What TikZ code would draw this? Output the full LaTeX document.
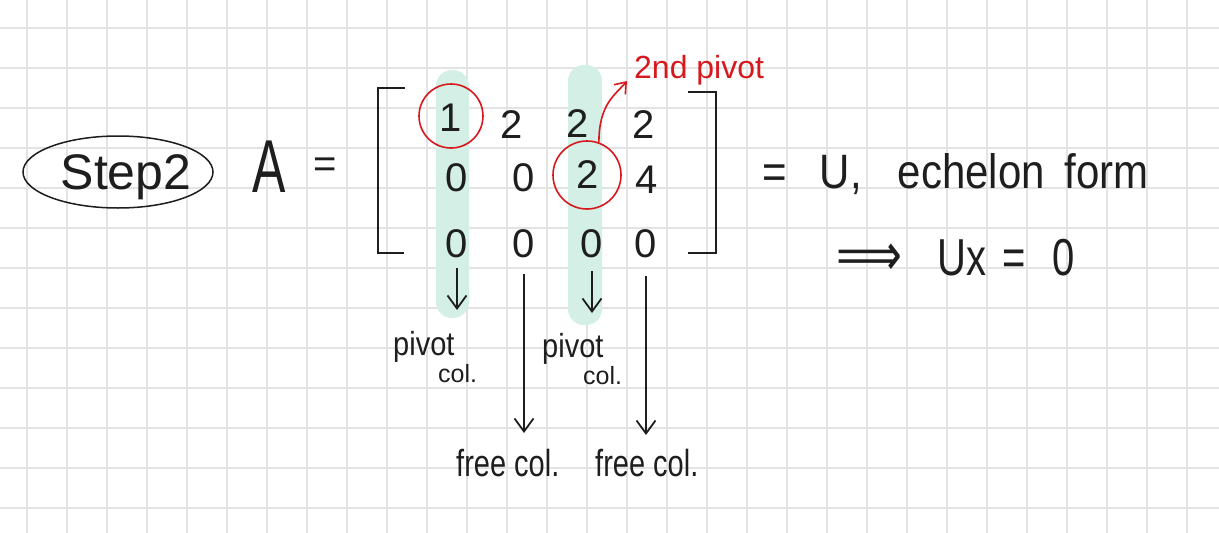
\documentclass[tikz,border=0pt]{standalone}
\usepackage{fontspec}
\setmainfont{Liberation Sans}
\newfontfamily\symfont{DejaVu Sans}
\usepackage{tikz}
\usetikzlibrary{arrows.meta,shapes.geometric}
\definecolor{ink}{HTML}{1E1E1E}
\definecolor{pivred}{HTML}{D7191E}
\definecolor{mint}{HTML}{D3EFE6}
\definecolor{gridgray}{HTML}{E3E3E3}

\begin{document}
\begin{tikzpicture}[x=1pt,y=-1pt,>={Straight Barb[length=13pt,width=19pt]},
    every node/.style={inner sep=0pt,text=ink},
    hand/.style={font=\fontsize{#1}{#1}\selectfont},
    entry/.style={font=\fontsize{40}{40}\selectfont},
    ring/.style={draw=pivred,line width=1.6pt,circle,minimum size=#1},
    pen/.style={draw=ink,line width=1.8pt}]
        \useasboundingbox (0,0) rectangle (1219,533);
        \fill[white] (0,0) rectangle (1219,533);
        % ruitjespapier
        \foreach \gx in {27,67,...,1187} \draw[gridgray,line width=1.5pt] (\gx,0) -- (\gx,533);
        \foreach \gy in {28,68,...,508} \draw[gridgray,line width=1.5pt] (0,\gy) -- (1219,\gy);
        % pivotkolommen gemarkeerd
        \fill[mint,rounded corners=16pt] (436,70) rectangle (469,318);
        \fill[mint,rounded corners=16pt] (568,65) rectangle (602,325);
        % stap en linkerlid
        \node[draw=ink,line width=1.5pt,ellipse,minimum width=190pt,minimum height=72pt] (stepring) at (118,172) {};
        \node[hand=50,anchor=base] (step) at (126,189) {Step2};
        \node[hand=50,yscale=1.5,anchor=base west] (amat) at (252,192) {A};
        \node[hand=40,anchor=base] (aeq) at (325,177) {=};
        % matrix U
        \draw[pen] (405,88) -- (378,88) -- (378,253) -- (404,253);
        \draw[pen] (688,92) -- (716,92) -- (716,253) -- (688,253);
        \node[entry] (e11) at (451,118) {1};
        \node[entry] (e12) at (512,125) {2};
        \node[entry] (e13) at (578,124) {2};
        \node[entry] (e14) at (644,125) {2};
        \node[entry] (e21) at (457,178) {0};
        \node[entry] (e22) at (524,178) {0};
        \node[entry] (e23) at (588,175) {2};
        \node[entry] (e24) at (647,180) {4};
        \node[entry] (e31) at (457,244) {0};
        \node[entry] (e32) at (524,244) {0};
        \node[entry] (e33) at (592,244) {0};
        \node[entry] (e34) at (646,244) {0};
        % pivots
        \node[ring=64pt] (ring1) at (451,116) {};
        \node[ring=68pt] (ring2) at (587,175) {};
        \node[hand=32,anchor=base west,text=pivred] (pivlbl) at (634,78) {2nd pivot};
        \draw[pivred,line width=1.6pt,-{Straight Barb[length=10pt,width=15pt]}] (ring2.70) .. controls +(0,-38) and +(-12,14) .. ([xshift=-7pt,yshift=-3pt]pivlbl.base west);
        % kolommen benoemd
        \node[hand=29,yscale=1.15,anchor=base west] (piv1) at (393,355) {pivot};
        \node[hand=25,anchor=base west] (pcol1) at (438,382) {col.};
        \node[hand=29,yscale=1.15,anchor=base west] (piv2) at (542,357) {pivot};
        \node[hand=25,anchor=base west] (pcol2) at (583,384) {col.};
        \node[hand=29,yscale=1.3,anchor=base west] (free1) at (456,476) {free col.};
        \node[hand=29,yscale=1.3,anchor=base west] (free2) at (595,476) {free col.};
        \coordinate (tip1) at (457,310);
        \coordinate (tip2) at (524,433);
        \coordinate (tip3) at (592,313);
        \coordinate (tip4) at (646,435);
        \draw[pen,->] ([yshift=-10pt]e31.south) -- (tip1);
        \draw[pen,->] ([yshift=-16pt]e32.south) -- (tip2);
        \draw[pen,->] ([yshift=-13pt]e33.south) -- (tip3);
        \draw[pen,->] ([yshift=-18pt]e34.south) -- (tip4);
        % rechterlid
        \node[hand=42,yscale=1.15,anchor=base west] (ueq) at (762,188) {=\hspace{33pt}U,\hspace{36pt}echelon\hspace{20pt}form};
        \node[hand=40,yscale=1.3,anchor=base west] (uxeq) at (836,275) {{\symfont\fontsize{46}{46}\selectfont ⟹}\hspace{35pt}Ux\hspace{16pt}=\hspace{27pt}0};
      \end{tikzpicture}
\end{document}
